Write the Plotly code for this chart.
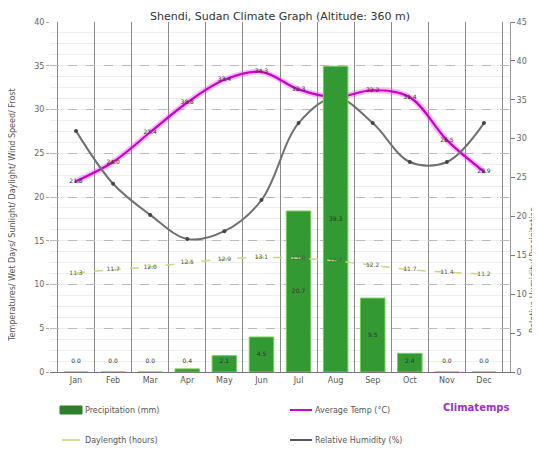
import plotly.graph_objects as go

months = ["Jan", "Feb", "Mar", "Apr", "May", "Jun", "Jul", "Aug", "Sep", "Oct", "Nov", "Dec"]
avg_temp = [21.8, 24.0, 27.4, 30.8, 33.4, 34.3, 32.3, 31.4, 32.2, 31.4, 26.5, 22.9]
daylength = [11.3, 11.7, 12.0, 12.5, 12.9, 13.1, 13.0, 12.7, 12.2, 11.7, 11.4, 11.2]
humidity = [31.0, 24.2, 20.2, 17.1, 18.1, 22.1, 32.0, 35.3, 32.0, 27.0, 27.0, 32.0]
precip = [0.0, 0.0, 0.0, 0.4, 2.1, 4.5, 20.7, 39.3, 9.5, 2.4, 0.0, 0.0]

left_ticks = [0, 5, 10, 15, 20, 25, 30, 35, 40]
right_ticks = [0, 5, 10, 15, 20, 25, 30, 35, 40, 45]

FONT = "DejaVu Sans"
fig = go.Figure()

# Average temperature (left axis)
fig.add_trace(go.Scatter(
    x=months, y=avg_temp, mode="lines", yaxis="y",
    line=dict(color="rgba(220,80,220,0.35)", width=6, shape="spline", smoothing=1.0),
    hoverinfo="skip", showlegend=False))
fig.add_trace(go.Scatter(
    x=months, y=avg_temp, mode="lines+markers+text", yaxis="y",
    line=dict(color="#cc00cc", width=2.2, shape="spline", smoothing=1.0),
    marker=dict(size=3, color="#993399"),
    text=[f"{v:.1f}" for v in avg_temp], textposition="middle center",
    textfont=dict(size=6, color="#333", family=FONT), showlegend=False))

# Relative humidity (right axis)
fig.add_trace(go.Scatter(
    x=months, y=humidity, mode="lines+markers", yaxis="y2",
    line=dict(color="#707070", width=2, shape="spline", smoothing=1.0),
    marker=dict(size=4, color="#444"), showlegend=False))

# Precipitation bars (right-axis scale)
fig.add_trace(go.Bar(
    x=months, y=precip, yaxis="y3", width=0.66,
    marker=dict(color="#339933", line=dict(color="#77cc55", width=1)),
    showlegend=False))
fig.add_trace(go.Scatter(
    x=months, y=[max(v / 2, 1.3) for v in precip], mode="text", yaxis="y3",
    text=[f"{v:.1f}" for v in precip],
    textfont=dict(size=6, color="#333", family=FONT), showlegend=False))

# Daylength (left-axis scale, drawn on top)
fig.add_trace(go.Scatter(
    x=months, y=daylength, mode="lines+text", yaxis="y4",
    line=dict(color="#cdd77f", width=1.5, shape="spline", dash="dash"),
    text=[f"{v:.1f}" for v in daylength], textposition="middle center",
    textfont=dict(size=6, color="#555", family=FONT), showlegend=False))

fig.update_layout(
    width=532, height=447,
    margin=dict(l=42, r=30, t=14, b=83, autoexpand=False),
    paper_bgcolor="white", plot_bgcolor="white",
    font=dict(family=FONT, size=8, color="#555"),
    title=dict(text="Shendi, Sudan Climate Graph (Altitude: 360 m)",
               x=0.5, xref="paper", y=(447 - 4) / 447, yref="container",
               yanchor="top",
               font=dict(size=11, color="#333", family=FONT)),
    bargap=0.3,
    xaxis=dict(type="category", tickson="boundaries", showgrid=True, automargin=False,
               gridcolor="#8a8a8a", gridwidth=1, showline=True, linecolor="#777",
               ticks="", tickfont=dict(size=8, color="#555")),
    yaxis=dict(range=[0, 40], tickvals=left_ticks, showgrid=True, automargin=False,
               gridcolor="#bbbbbb", griddash="dash", zeroline=False,
               ticks="outside", ticklen=3, tickcolor="#aaa",
               tickfont=dict(size=8, color="#666"),
               minor=dict(dtick=1.25, showgrid=True, gridcolor="#efefef", griddash="solid")),
    yaxis2=dict(range=[0, 45], tickvals=right_ticks, overlaying="y", side="right",
                automargin=False,
                showgrid=False, zeroline=False, showline=True, linecolor="#999",
                ticks="outside", ticklen=4, tickcolor="#777",
                tickfont=dict(size=8, color="#666")),
    yaxis3=dict(range=[0, 45], overlaying="y", visible=False),
    yaxis4=dict(range=[0, 40], overlaying="y", visible=False),
)

# Helpers: screen pixel -> paper coordinates (plot area 50..510 x 22..372 on screen)
def px_x(p):
    return (p - 50) / 460.0

def px_y(p):
    return (372 - p) / 350.0

# Axis titles
fig.add_annotation(text="Temperatures/ Wet Days/ Sunlight/ Daylight/ Wind Speed/ Frost",
                   xref="paper", yref="paper", x=px_x(13), y=px_y(215), textangle=-90,
                   showarrow=False, xanchor="center", yanchor="middle",
                   font=dict(size=8, color="#555", family=FONT))
fig.add_annotation(text="Relative Humidity/ Precipitation",
                   xref="paper", yref="paper", x=px_x(533), y=px_y(270), textangle=-90,
                   showarrow=False, xanchor="center", yanchor="middle",
                   font=dict(size=8, color="#555", family=FONT))

# Custom legend
fig.add_shape(type="rect", xref="paper", yref="paper",
              x0=px_x(60), x1=px_x(82), y0=px_y(414), y1=px_y(406),
              fillcolor="#2f7f2f", line=dict(color="#2f7f2f", width=1))
fig.add_annotation(text="Precipitation (mm)", xref="paper", yref="paper",
                   x=px_x(83), y=px_y(410), xanchor="left", yanchor="middle",
                   showarrow=False, font=dict(size=8, color="#555", family=FONT))
fig.add_shape(type="line", xref="paper", yref="paper",
              x0=px_x(290), x1=px_x(312), y0=px_y(410), y1=px_y(410),
              line=dict(color="#cc00cc", width=2))
fig.add_annotation(text="Average Temp (°C)", xref="paper", yref="paper",
                   x=px_x(313), y=px_y(410), xanchor="left", yanchor="middle",
                   showarrow=False, font=dict(size=8, color="#555", family=FONT))
fig.add_shape(type="line", xref="paper", yref="paper",
              x0=px_x(62), x1=px_x(80), y0=px_y(440), y1=px_y(440),
              line=dict(color="#c8d27a", width=1.5))
fig.add_annotation(text="Daylength (hours)", xref="paper", yref="paper",
                   x=px_x(83), y=px_y(440), xanchor="left", yanchor="middle",
                   showarrow=False, font=dict(size=8, color="#555", family=FONT))
fig.add_shape(type="line", xref="paper", yref="paper",
              x0=px_x(290), x1=px_x(312), y0=px_y(440), y1=px_y(440),
              line=dict(color="#555", width=2))
fig.add_annotation(text="Relative Humidity (%)", xref="paper", yref="paper",
                   x=px_x(313), y=px_y(440), xanchor="left", yanchor="middle",
                   showarrow=False, font=dict(size=8, color="#555", family=FONT))
fig.add_annotation(text="<b>Climatemps</b>", xref="paper", yref="paper",
                   x=px_x(512), y=px_y(408), xanchor="right", yanchor="middle",
                   showarrow=False, font=dict(size=10, color="#9933cc", family=FONT))

fig.write_html("out.html")
